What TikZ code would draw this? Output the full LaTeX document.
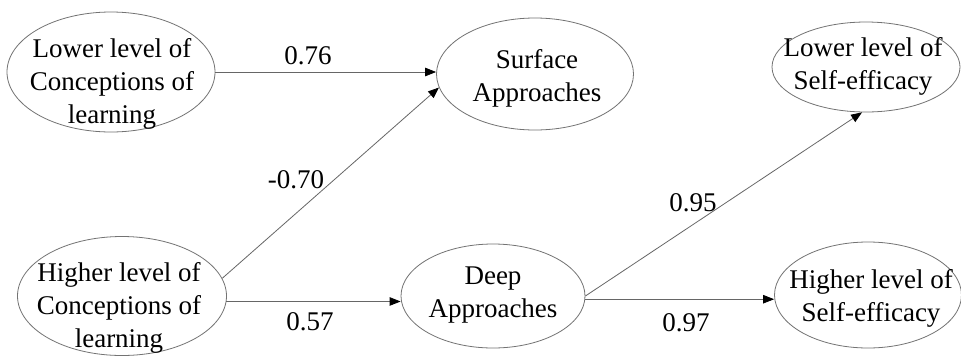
\documentclass[tikz,border=0pt]{standalone}
\usepackage{fontspec}
\setmainfont{Liberation Serif}
\usetikzlibrary{shapes.geometric,arrows.meta}
\begin{document}
\begin{tikzpicture}[x=1pt,y=-1pt,
  ell/.style={draw=black!55, line width=0.8pt, ellipse, inner sep=0pt},
  txt/.style={align=center, font=\fontsize{27}{33}\selectfont, inner sep=0pt},
  lbl/.style={font=\fontsize{27}{33}\selectfont, inner sep=0pt},
  conn/.style={draw=black!60, line width=0.8pt, -{Triangle[length=11pt,width=8.5pt,black]}}]
\useasboundingbox[fill=white] (0,0) rectangle (961,357);
% ellipses
\node[ell, minimum width=208pt, minimum height=120pt] (lcl) at (111,72) {};
\node[ell, minimum width=209pt, minimum height=119pt] (hcl) at (122,296) {};
\node[ell, minimum width=197pt, minimum height=112pt] (sa) at (535,74) {};
\node[ell, minimum width=184pt, minimum height=104pt] (da) at (493,296) {};
\node[ell, minimum width=188pt, minimum height=90pt] (lse) at (866,67) {};
\node[ell, minimum width=187pt, minimum height=106pt] (hse) at (868,295) {};
% texts
\node[txt] (lclt) at (112,84) {Lower level of\\Conceptions of\\learning};
\node[txt] (hclt) at (119,308) {Higher level of\\Conceptions of\\learning};
\node[txt] (sat) at (537,78) {Surface\\Approaches};
\node[txt] (dat) at (493,295) {Deep\\Approaches};
\node[txt] (lset) at (863,66) {Lower level of\\Self-efficacy};
\node[txt] (hset) at (871,298) {Higher level of\\Self-efficacy};
% connectors
\draw[conn] (lcl.east) -- (lcl.east -| sa.west);
\draw[conn] (hcl.10) -- (sa.188);
\draw[conn] (hcl.-3) -- (hcl.-3 -| da.west);
\draw[conn] (da.east) -- (lse.265);
\draw[conn] (da.-2) -- (da.-2 -| hse.west);
% labels
\node[lbl] (l1) at (308,56) {0.76};
\node[lbl] (l2) at (296,180) {-0.70};
\node[lbl] (l3) at (310,322) {0.57};
\node[lbl] (l4) at (693,203) {0.95};
\node[lbl] (l5) at (686,323) {0.97};
\end{tikzpicture}
\end{document}
